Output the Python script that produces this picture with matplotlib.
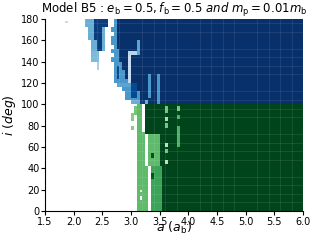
import numpy as np
import matplotlib
matplotlib.use("Agg")
import matplotlib.pyplot as plt
from matplotlib.ticker import MultipleLocator

# grid of the survival map
a_edges = np.linspace(1.5, 6.0, 91)
i_edges = np.linspace(0, 180, 91)

# retrograde side (Blues): per 4-deg band, where the unstable band starts and where the stable (dark) part starts
band_i0      = [100, 104, 108, 112, 116, 120, 124, 128, 132, 136, 140, 144, 148, 152, 156, 160, 164, 168, 172, 176]
band_a_mid   = [2.98, 2.92, 2.88, 2.85, 2.75, 2.70, 2.72, 2.68, 2.70, 2.68, 2.67, 2.70, 2.67, 2.69, 2.67, 2.67, 2.69, 2.67, 2.69, 2.69]
band_a_dark  = [3.28, 3.15, 3.15, 3.12, 3.05, 2.95, 2.90, 2.88, 2.85, 2.83, 2.82, 2.80, 2.78, 2.77, 2.77, 2.77, 2.77, 2.77, 2.77, 2.77]
band_v       = [0.5, 0.6, 0.6, 0.6, 0.55, 0.6, 0.6, 0.6, 0.6, 0.6, 0.6, 0.6, 0.6, 0.6, 0.6, 0.6, 0.6, 0.6, 0.6, 0.6]

# extra blue patches (a0, a1, i0, i1, value), painted in order
blue_a0 = [2.98, 2.75, 2.20, 2.35, 2.25, 2.35, 2.50, 2.30, 2.40, 2.48, 2.32, 2.38, 1.85, 2.94, 2.94, 3.10, 3.30, 3.45, 3.15]
blue_a1 = [3.08, 2.80, 2.35, 2.60, 2.35, 2.50, 2.55, 2.40, 2.48, 2.55, 2.45, 2.45, 1.90, 2.99, 3.14, 3.15, 3.35, 3.50, 3.25]
blue_i0 = [106, 124, 172, 172, 160, 160, 160, 150, 150, 150, 140, 132, 176, 120, 146, 146, 106, 100, 100]
blue_i1 = [120, 136, 180, 180, 172, 172, 172, 160, 160, 160, 150, 140, 178, 148, 150, 160, 128, 128, 104]
blue_v  = [0.9, 0.9, 0.5, 0.95, 0.5, 0.95, 0.5, 0.5, 0.95, 0.5, 0.45, 0.35, 0.25, 0.25, 0.3, 0.55, 0.6, 0.6, 0.95]

# prograde side (Greens)
green_a0 = [3.55, 3.50, 3.25, 3.10, 3.10, 3.32, 3.10, 3.37, 3.35, 3.35, 3.15, 3.15, 3.00, 3.00, 3.05,
            3.60, 3.60, 3.60, 3.60, 3.60, 3.60, 3.80, 3.80, 3.80]
green_a1 = [6.00, 6.00, 6.00, 3.20, 3.27, 3.50, 3.30, 3.55, 3.40, 3.40, 3.20, 3.20, 3.05, 3.05, 3.10,
            3.65, 3.65, 3.65, 3.65, 3.65, 3.65, 3.85, 3.85, 3.85]
green_i0 = [0, 40, 72, 74, 42, 42, 0, 0, 30, 50, 10, 18, 84, 76, 90,
            92, 84, 78, 60, 54, 44, 60, 86, 94]
green_i1 = [40, 72, 100, 100, 74, 72, 42, 42, 36, 54, 14, 20, 92, 80, 98,
            98, 88, 82, 64, 58, 48, 80, 90, 98]
green_v  = [1.0, 1.0, 1.0, 0.55, 0.55, 0.55, 0.55, 0.65, 0.95, 0.95, 0.0, 0.15, 0.45, 0.45, 0.5,
            0.5, 0.35, 0.5, 0.3, 0.5, 0.3, 0.6, 0.6, 0.5]

ac = 0.5 * (a_edges[1:] + a_edges[:-1])
ic = 0.5 * (i_edges[1:] + i_edges[:-1])
A, I = np.meshgrid(ac, ic)


def paint(Z, a0s, a1s, i0s, i1s, vs):
    for a0, a1, i0, i1, v in zip(a0s, a1s, i0s, i1s, vs):
        Z[(A >= a0) & (A < a1) & (I >= i0) & (I < i1)] = v
    return Z


Zb = np.zeros_like(A)
for k, i0 in enumerate(band_i0):
    rows = (I >= i0) & (I < i0 + 4)
    Zb[rows & (A >= band_a_mid[k])] = band_v[k]
    Zb[rows & (A >= band_a_dark[k])] = 1.0
Zb = paint(Zb, blue_a0, blue_a1, blue_i0, blue_i1, blue_v)
Zg = paint(np.zeros_like(A), green_a0, green_a1, green_i0, green_i1, green_v)
Zb = np.ma.masked_less_equal(Zb, 0)
Zg = np.ma.masked_less_equal(Zg, 0)

fig = plt.figure(figsize=(3.16, 2.41), dpi=100)
ax = fig.add_axes([0.142, 0.1245, 0.817, 0.797])

ax.pcolormesh(a_edges, i_edges, Zb, cmap="Blues", vmin=0, vmax=1)
ax.pcolormesh(a_edges, i_edges, Zg, cmap="Greens", vmin=0, vmax=1)

ax.set_xlim(1.5, 6.0)
ax.set_ylim(0, 180)
ax.set_xticks(np.arange(1.5, 6.01, 0.5))
ax.set_yticks(np.arange(0, 181, 20))
ax.xaxis.set_minor_locator(MultipleLocator(0.2))
ax.yaxis.set_minor_locator(MultipleLocator(8))
ax.tick_params(which="minor", length=0)
ax.grid(which="minor", color="white", alpha=0.12, lw=0.5)
ax.set_axisbelow(False)
ax.tick_params(labelsize=7, length=3, pad=1)
for s in ["top", "right"]:
    ax.spines[s].set_visible(False)

ax.set_xlabel(r"$a\ (a_{\rm b})$", fontsize=9, labelpad=-5)
ax.set_ylabel(r"$i\ (deg)$", fontsize=9, labelpad=2)
ax.set_title(r"Model B5 : $e_{\rm b}=0.5, f_{\rm b}=0.5\ and\ m_{\rm p}=0.01m_{\rm b}$",
             fontsize=8.5, pad=2)

fig.savefig("out.png", dpi=100)
